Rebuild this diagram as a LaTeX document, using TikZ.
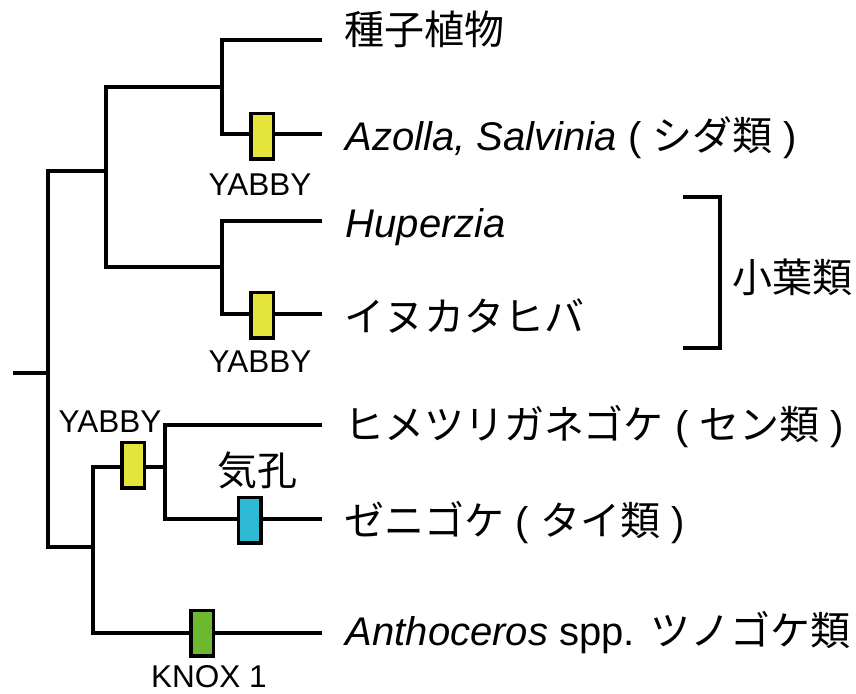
\documentclass[tikz,border=0pt]{standalone}
\usepackage{fontspec}
\setmainfont{Liberation Sans}
\newfontfamily\jp{Noto Sans CJK JP}
\definecolor{yabbycol}{RGB}{228,228,58}
\definecolor{stomacol}{RGB}{46,186,212}
\definecolor{knoxcol}{RGB}{108,184,46}
\begin{document}
\begin{tikzpicture}[x=1pt,y=-1pt,line width=3.5pt,line join=miter,
  gene/.style={draw=black,line width=3.5pt,rectangle,inner sep=0pt,
    minimum width=22.5pt,minimum height=45.5pt},
  taxon/.style={anchor=base west,inner sep=0pt,font=\fontsize{40}{46}\selectfont},
  genelabel/.style={inner sep=0pt,font=\fontsize{31.5}{36}\selectfont},
  traitlabel/.style={inner sep=0pt,font=\fontsize{40}{46}\selectfont\jp}]
\useasboundingbox (0,0) rectangle (856,693);

% internal nodes of the tree
\coordinate (stub) at (13,373);
\coordinate (root) at (48,373);
\coordinate (vasc) at (106,171);
\coordinate (eup)  at (222,87);
\coordinate (lyc)  at (222,267);
\coordinate (bryo) at (93,547);
\coordinate (moss) at (165,467);

% branch tips
\coordinate (t1) at (322,40);
\coordinate (t2) at (322,134);
\coordinate (t3) at (322,221);
\coordinate (t4) at (322,314);
\coordinate (t5) at (322,425);
\coordinate (t6) at (322,519);
\coordinate (t7) at (322,633);

% gene / trait markers
\node[gene,fill=yabbycol] (yab1) at (262,136) {};
\node[gene,fill=yabbycol] (yab2) at (262,315) {};
\node[gene,fill=yabbycol] (yab3) at (133,465) {};
\node[gene,fill=stomacol] (stoma) at (249.5,520) {};
\node[gene,fill=knoxcol] (knox) at (202,633) {};

% branches
\draw (stub) -- (root);
\draw (vasc) -| (root) |- (bryo);
\draw (eup) -| (vasc) |- (lyc);
\draw (t1) -| (eup) |- (yab1.west |- t2);
\draw (yab1.east |- t2) -- (t2);
\draw (t3) -| (lyc) |- (yab2.west |- t4);
\draw (yab2.east |- t4) -- (t4);
\draw (yab3.west |- moss) -| (bryo) |- (knox.west);
\draw (knox.east) -- (t7);
\draw (yab3.east |- moss) -- (moss);
\draw (t5) -| (moss) |- (stoma.west |- t6);
\draw (stoma.east |- t6) -- (t6);

% marker labels
\node[genelabel] (lyab1) at (260,185) {YABBY};
\node[genelabel] (lyab2) at (260,362) {YABBY};
\node[genelabel] (lyab3) at (110,422) {YABBY};
\node[genelabel] (lknox) at (209,677) {KNOX 1};
\node[traitlabel] (lstoma) at (257,470) {気孔};

% taxa
\node[taxon] (n1) at (343,45)  {\jp 種子植物};
\node[taxon] (n2) at (344,150) {\textit{Azolla, Salvinia} ( {\jp シダ類} )};
\node[taxon] (n3) at (344,237) {\textit{Huperzia}};
\node[taxon] (n4) at (343,331) {\jp イヌカタヒバ};
\node[taxon] (n5) at (343,439) {{\jp ヒメツリガネゴケ} ( {\jp セン類} )};
\node[taxon] (n6) at (343,535) {{\jp ゼニゴケ} ( {\jp タイ類} )};
\node[taxon] (n7) at (344,645) {\textit{Anthoceros} spp.\hspace{0.4em}{\jp ツノゴケ類}};

% lycophyte bracket
\coordinate (bt) at (683,197);
\coordinate (bb) at (683,348);
\draw (bt) -- ++(37,0) |- (bb);
\node[taxon] (lyco) at (731,292) {\jp 小葉類};
\end{tikzpicture}
\end{document}
